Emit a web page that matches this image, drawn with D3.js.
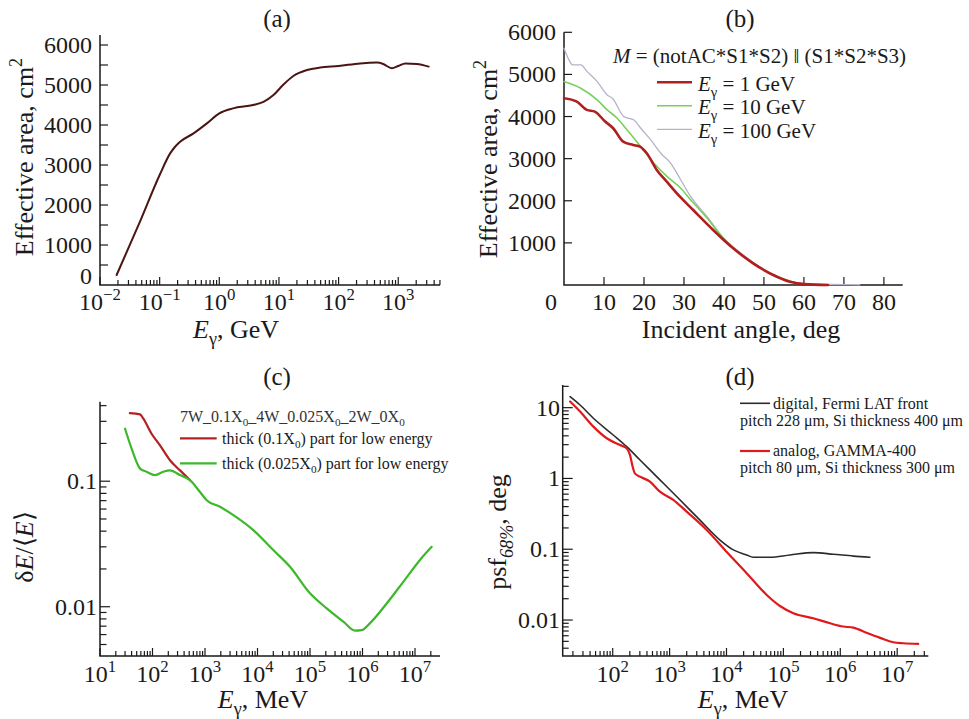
<!DOCTYPE html>
<html>
<head>
<meta charset="utf-8">
<script src="https://cdn.jsdelivr.net/npm/d3@7"></script>
<style>
  body { margin: 0; background: #fff; }
  text { font-family: "Liberation Serif", "Times New Roman", serif; fill: #1a1a1a; }
</style>
</head>
<body>
<svg id="fig" width="969" height="719"></svg>
<script>
// ---- (a) effective area vs energy
const aEnergy = [0.019, 0.047, 0.10, 0.15, 0.18, 0.22, 0.37, 0.62, 1.0, 1.7, 3.7, 5.5, 8.1, 11.7, 17.4, 29.5, 49, 100, 230, 440, 560, 780, 1000, 1320, 2040, 3240];
const aArea   = [250, 1590, 2750, 3290, 3450, 3580, 3790, 4040, 4290, 4415, 4500, 4580, 4750, 5000, 5225, 5375, 5435, 5475, 5540, 5560, 5525, 5420, 5475, 5540, 5525, 5460];

// ---- (b) effective area vs incident angle
const bAngle1   = [0, 3.2, 5.7, 7.7, 10.3, 12.3, 14.8, 17.3, 19, 20.7, 23.2, 25.7, 29, 32.3, 37.3, 42.3, 47.3, 52.3, 56.5, 60, 66];
const bArea1    = [4435, 4355, 4157, 4117, 3880, 3722, 3405, 3325, 3285, 3128, 2732, 2454, 2097, 1781, 1306, 871, 515, 237, 78, 20, 0];
const bAngle10  = [0, 4.2, 8.3, 10.8, 13.3, 15.8, 19.2, 22.5, 25.8, 29.2, 31.7, 35.8, 40, 45, 50, 55, 60, 66];
const bArea10   = [4830, 4670, 4394, 4157, 3960, 3680, 3285, 2890, 2572, 2297, 2019, 1584, 1085, 680, 360, 130, 25, 3];
const bAngle100 = [0, 1.25, 2.1, 4.2, 5.8, 8.3, 10.8, 12.1, 15, 17.5, 19.2, 21.7, 24.2, 26.7, 29.2, 31.7, 35.8, 40, 45, 50, 55, 60, 66, 74];
const bArea100  = [5622, 5344, 5226, 5226, 5067, 4830, 4513, 4434, 3998, 3919, 3722, 3444, 3128, 2890, 2494, 2097, 1622, 1110, 700, 370, 140, 30, 12, 6];
const bLegend   = ["1 GeV", "10 GeV", "100 GeV"];

// ---- (c) energy resolution
const cEnergyThick = [37, 58, 67, 96, 139, 215, 334, 518];
const cResThick    = [0.349, 0.341, 0.315, 0.239, 0.193, 0.147, 0.122, 0.102];
const cEnergyThin  = [30, 40, 58, 77, 112, 161, 215, 334, 518, 803, 1077, 1932, 3467, 8318, 19950, 41590, 100000, 208000, 431500, 720000, 955000, 1390000, 2884000, 5984000, 12450000, 20750000];
const cResThin     = [0.262, 0.182, 0.126, 0.119, 0.112, 0.119, 0.122, 0.112, 0.102, 0.082, 0.0706, 0.0625, 0.0537, 0.0408, 0.0283, 0.0208, 0.0128, 0.0097, 0.0076, 0.00644, 0.0065, 0.0074, 0.0106, 0.0158, 0.0236, 0.030];

// ---- (d) angular resolution
const dEnergyDigital = [17.8, 26.7, 45.7, 102, 176, 302, 676, 1514, 3388, 7691, 13180, 22650, 29510, 58210, 130600, 335000, 753000, 1698000, 3311000];
const dPsfDigital    = [14.3, 10.9, 7.08, 4.11, 2.81, 1.82, 0.955, 0.50, 0.26, 0.135, 0.098, 0.083, 0.077, 0.077, 0.083, 0.0896, 0.085, 0.080, 0.077];
const dEnergyAnalog  = [17.8, 26.7, 45.7, 78.5, 134, 176, 201, 224, 245, 302, 452, 676, 1161, 1995, 4487, 10000, 22650, 50930, 87100, 149600, 335000, 660700, 1122000, 1698000, 2884000, 5012000, 8511000, 12880000, 23440000];
const dPsfAnalog     = [12.2, 8.8, 5.4, 3.7, 2.97, 2.67, 2.15, 1.47, 1.18, 1.06, 0.90, 0.65, 0.50, 0.34, 0.187, 0.0925, 0.0458, 0.0226, 0.0158, 0.0125, 0.0106, 0.0090, 0.0081, 0.0078, 0.0066, 0.0056, 0.00486, 0.0047, 0.0046];

const svg = d3.select("#fig");
const TICK_FONT = 24;

// write text made of plain / italic / sub / sup pieces
function rich(t, parts, base) {
    let shift = 0;
    parts.forEach(p => {
        const s = typeof p === "string" ? p : p[0];
        const kind = typeof p === "string" ? "" : p[1];
        const sp = t.append("tspan").text(s);
        let target = 0;
        if (kind.includes("sub")) target = base * 0.28;
        if (kind.includes("sup")) target = -base * 0.42;
        if (target !== shift) { sp.attr("dy", target - shift); shift = target; }
        if (target !== 0) sp.style("font-size", (base * 0.7) + "px");
        if (kind.includes("i")) sp.style("font-style", "italic");
    });
    return t;
}

function label(x, y, size, anchor, parts) {
    const t = svg.append("text").attr("x", x).attr("y", y)
        .attr("text-anchor", anchor).style("font-size", size + "px");
    return rich(t, parts, size);
}

function yLabel(x, y, size, parts) {
    const t = svg.append("text").attr("transform", `translate(${x},${y}) rotate(-90)`)
        .attr("text-anchor", "middle").style("font-size", size + "px");
    return rich(t, parts, size);
}

function frame(x, y) {
    const [x0, x1] = x.range(), [y0, y1] = y.range();
    svg.append("path")
        .attr("d", `M${x0},${y1}V${y0}H${x1}`)
        .attr("fill", "none").attr("stroke", "#1a1a1a").attr("stroke-width", 1.5);
}

function isDecade(v) {
    const l = Math.log10(v);
    return Math.abs(l - Math.round(l)) < 1e-6;
}

function ticksX(x, y0, vals, len) {
    svg.append("g").selectAll("line").data(vals).enter().append("line")
        .attr("x1", d => x(d)).attr("x2", d => x(d))
        .attr("y1", y0).attr("y2", d => y0 - len(d))
        .attr("stroke", "#1a1a1a").attr("stroke-width", 1.2);
}

function ticksY(y, x0, vals, len) {
    svg.append("g").selectAll("line").data(vals).enter().append("line")
        .attr("y1", d => y(d)).attr("y2", d => y(d))
        .attr("x1", x0).attr("x2", d => x0 + len(d))
        .attr("stroke", "#1a1a1a").attr("stroke-width", 1.2);
}

function powLabels(x, y0, exps) {
    exps.forEach(e => {
        label(x(Math.pow(10, e)), y0, TICK_FONT, "middle",
            ["10", [e < 0 ? "\u2212" + (-e) : String(e), "sup"]]);
    });
}

function curve(x, y, xs, ys, color, width) {
    const pts = xs.map((d, i) => [d, ys[i]]);
    svg.append("path").datum(pts)
        .attr("d", d3.line().x(d => x(d[0])).y(d => y(d[1])).curve(d3.curveMonotoneX))
        .attr("fill", "none").attr("stroke", color).attr("stroke-width", width)
        .attr("stroke-linejoin", "round").attr("stroke-linecap", "round");
}

function legendLine(x1, x2, y, color, width) {
    svg.append("line").attr("x1", x1).attr("x2", x2).attr("y1", y).attr("y2", y)
        .attr("stroke", color).attr("stroke-width", width);
}

// ================= (a)
const xa = d3.scaleLog().domain([0.01, Math.pow(10, 3.7)]).range([100, 440]);
const ya = d3.scaleLinear().domain([0, 6250]).range([285, 35]);
frame(xa, ya);
ticksY(ya, 100, d3.range(500, 6001, 500), () => 8);
ticksX(xa, 285, xa.ticks(), d => isDecade(d) ? 8 : 5);
// the zero label sits a little higher so it clears the 10^-2 label
d3.range(0, 6001, 1000).forEach(v => label(92, v === 0 ? 284 : ya(v) + 8, TICK_FONT, "end", [String(v)]));
powLabels(xa, 310, [-2, -1, 0, 1, 2, 3]);
curve(xa, ya, aEnergy, aArea, "#4a1614", 2);
label(277, 27, 25, "middle", ["(a)"]);
label(236, 338, 26, "middle", [["E", "i"], ["\u03b3", "sub"], ", GeV"]);
yLabel(33, 157, 26, ["Effective area, cm", ["2", "sup"]]);

// ================= (b)
const xb = d3.scaleLinear().domain([0, 84.7]).range([564, 902.7]);
const yb = d3.scaleLinear().domain([0, 6000]).range([285, 32.3]);
frame(xb, yb);
ticksY(yb, 564, d3.range(1000, 6001, 1000), () => 8);
ticksX(xb, 285, d3.range(10, 81, 10), () => 8);
d3.range(1000, 6001, 1000).forEach(v => label(556, yb(v) + 8, TICK_FONT, "end", [String(v)]));
d3.range(10, 81, 10).forEach(v => label(xb(v), 310, TICK_FONT, "middle", [String(v)]));
label(xb(0) - 13, 310, TICK_FONT, "middle", ["0"]);
curve(xb, yb, bAngle100, bArea100, "#b3b3c9", 1.3);
curve(xb, yb, bAngle10, bArea10, "#78d05c", 1.6);
curve(xb, yb, bAngle1, bArea1, "#b01e1e", 2.6);
label(740, 27, 25, "middle", ["(b)"]);
label(741, 338, 26, "middle", ["Incident angle, deg"]);
yLabel(497, 159, 26, ["Effective area, cm", ["2", "sup"]]);
label(613, 63, 21, "start", [["M", "i"], " = (notAC*S1*S2) \u2016 (S1*S2*S3)"]);
const bColors = ["#b01e1e", "#78d05c", "#b3b3c9"];
const bWidths = [2.6, 1.6, 1.3];
bLegend.forEach((s, i) => {
    const ly = 82.3 + i * 23.5;
    legendLine(657, 692, ly, bColors[i], bWidths[i]);
    label(698, ly + 8.5, 21, "start", [["E", "i"], ["\u03b3", "sub"], " = " + s]);
});

// ================= (c)
const xc = d3.scaleLog().domain([10, Math.pow(10, 7.476)]).range([100, 440]);
const yc = d3.scaleLog().domain([0.00405, 0.43]).range([656, 401.7]);
frame(xc, yc);
ticksY(yc, 100, yc.ticks(), d => isDecade(d) ? 10 : 6.5);
ticksX(xc, 656, xc.ticks(), d => isDecade(d) ? 8 : 5);
[0.1, 0.01].forEach(v => label(97, yc(v) + 8, TICK_FONT, "end", [String(v)]));
powLabels(xc, 682, [1, 2, 3, 4, 5, 6, 7]);
curve(xc, yc, cEnergyThick, cResThick, "#b32222", 2.2);
curve(xc, yc, cEnergyThin, cResThin, "#3cb82a", 2.2);
label(277, 385, 25, "middle", ["(c)"]);
label(263, 708, 26, "middle", [["E", "i"], ["\u03b3", "sub"], ", MeV"]);
yLabel(33, 547, 26, ["\u03b4", ["E", "i"], "/\u27e8", ["E", "i"], "\u27e9"]);
const cl = label(180, 421.7, 16, "start", ["7W_0.1X", ["0", "sub"], "_4W_0.025X", ["0", "sub"], "_2W_0X", ["0", "sub"]]);
cl.style("fill", "#333");
legendLine(180, 216.7, 438.3, "#b32222", 2.2);
label(222, 443.5, 16, "start", ["thick (0.1X", ["0", "sub"], ") part for low energy"]);
legendLine(180, 216.7, 463.3, "#3cb82a", 2.2);
label(222, 468.5, 16, "start", ["thick (0.025X", ["0", "sub"], ") part for low energy"]);

// ================= (d)
const xd = d3.scaleLog().domain([Math.pow(10, 1.121), Math.pow(10, 7.547)]).range([562.7, 928.3]);
const yd = d3.scaleLog().domain([Math.pow(10, -2.508), Math.pow(10, 1.32)]).range([656, 385]);
frame(xd, yd);
ticksY(yd, 562.7, yd.ticks(), d => isDecade(d) ? 10 : 6);
ticksX(xd, 656, xd.ticks(), d => isDecade(d) ? 8 : 5);
[10, 1, 0.1, 0.01].forEach(v => label(560, yd(v) + 8, TICK_FONT, "end", [String(v)]));
powLabels(xd, 682, [2, 3, 4, 5, 6, 7]);
curve(xd, yd, dEnergyDigital, dPsfDigital, "#2b2b2b", 1.6);
curve(xd, yd, dEnergyAnalog, dPsfAnalog, "#e01a1c", 2.2);
label(740, 385, 25, "middle", ["(d)"]);
label(743, 708, 26, "middle", [["E", "i"], ["\u03b3", "sub"], ", MeV"]);
yLabel(506, 532, 26, ["psf", ["68%", "sub i"], ", deg"]);
legendLine(740, 770, 403.3, "#2b2b2b", 1.6);
label(773, 408.5, 16, "start", ["digital, Fermi LAT front"]);
label(740, 425.5, 16, "start", ["pitch 228 \u03bcm, Si thickness 400 \u03bcm"]);
legendLine(740, 770, 451, "#e01a1c", 2.2);
label(773, 456, 16, "start", ["analog, GAMMA-400"]);
label(740, 473, 16, "start", ["pitch 80 \u03bcm, Si thickness 300 \u03bcm"]);
</script>
</body>
</html>
